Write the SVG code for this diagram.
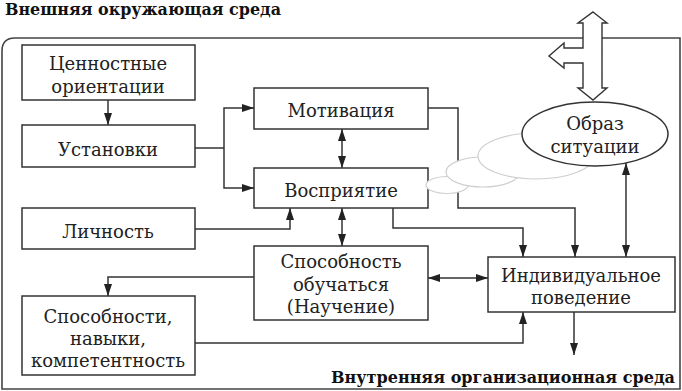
<svg xmlns="http://www.w3.org/2000/svg" width="682" height="391" viewBox="0 0 682 391">
<defs>
  <marker id="a" viewBox="0 0 12 8" refX="12" refY="4" markerWidth="12" markerHeight="8" markerUnits="userSpaceOnUse" orient="auto-start-reverse">
    <path d="M0,0 L12,4 L0,8 z" fill="#222"/>
  </marker>
</defs>
<rect width="682" height="391" fill="#fff"/>
<path d="M2,389 V51 Q2,38 15,38 H680 V389 Z" fill="none" stroke="#444" stroke-width="1.6"/>
<text x="5" y="15" font-family="DejaVu Serif, serif" font-size="16" font-weight="bold" fill="#111" textLength="276" lengthAdjust="spacingAndGlyphs">Внешняя окружающая среда</text>
<text x="331" y="383" font-family="DejaVu Serif, serif" font-size="16" font-weight="bold" fill="#111" textLength="344" lengthAdjust="spacingAndGlyphs">Внутренняя организационная среда</text>

<g id="connectors" fill="none" stroke="#333" stroke-width="1.5">
  <path d="M108,100 V125" marker-end="url(#a)"/>
  <path d="M195,148 H224"/>
  <path d="M224,148 V108 H254" marker-end="url(#a)"/>
  <path d="M224,148 V188 H254" marker-end="url(#a)"/>
  <path d="M195,229 H290 V208" marker-end="url(#a)"/>
  <path d="M342,129 V168" marker-start="url(#a)" marker-end="url(#a)"/>
  <path d="M342,208 V246" marker-start="url(#a)" marker-end="url(#a)"/>
  <path d="M428,108 H458 V208 H575 V257" marker-end="url(#a)"/>
  <path d="M393,208 V228 H523 V257" marker-end="url(#a)"/>
  <path d="M626,163 V257" marker-start="url(#a)" marker-end="url(#a)"/>
  <path d="M428,278 H488" marker-start="url(#a)" marker-end="url(#a)"/>
  <path d="M254,277 H108 V296" marker-end="url(#a)"/>
  <path d="M195,343 H523 V312" marker-end="url(#a)"/>
  <path d="M574,312 V355" marker-end="url(#a)"/>
</g>

<g font-family="DejaVu Serif, serif" font-size="18" text-anchor="middle">
<g id="cennostnye">
  <rect x="22" y="45" width="173" height="55" fill="#fff" stroke="#333" stroke-width="1.5"/>
  <text x="108" y="70" fill="#222">Ценностные</text>
  <text x="108" y="93" fill="#222">ориентации</text>
</g>
<g id="ustanovki">
  <rect x="22" y="125" width="173" height="42" fill="#fff" stroke="#333" stroke-width="1.5"/>
  <text x="108" y="156" fill="#222">Установки</text>
</g>
<g id="lichnost">
  <rect x="22" y="208" width="173" height="41" fill="#fff" stroke="#333" stroke-width="1.5"/>
  <text x="108" y="238" fill="#222">Личность</text>
</g>
<g id="sposobnosti">
  <rect x="22" y="296" width="173" height="79" fill="#fff" stroke="#333" stroke-width="1.5"/>
  <text x="108" y="323" fill="#222">Способности,</text>
  <text x="108" y="345" fill="#222">навыки,</text>
  <text x="108" y="367" fill="#222">компетентность</text>
</g>
<g id="motivaciya">
  <rect x="254" y="88" width="174" height="41" fill="#fff" stroke="#333" stroke-width="1.5"/>
  <text x="341" y="117" fill="#222">Мотивация</text>
</g>
<g id="vospriyatie">
  <rect x="254" y="168" width="174" height="40" fill="#fff" stroke="#333" stroke-width="1.5"/>
  <text x="341" y="197" fill="#222">Восприятие</text>
</g>
<g id="nauchenie">
  <rect x="254" y="246" width="174" height="74" fill="#fff" stroke="#333" stroke-width="1.5"/>
  <text x="341" y="268" fill="#222">Способность</text>
  <text x="341" y="291" fill="#222">обучаться</text>
  <text x="341" y="313" fill="#222">(Научение)</text>
</g>
<g id="povedenie">
  <rect x="488" y="257" width="187" height="55" fill="#fff" stroke="#333" stroke-width="1.5"/>
  <text x="581" y="282" fill="#222">Индивидуальное</text>
  <text x="581" y="304" fill="#222">поведение</text>
</g>

<g id="clouds" fill="#fff" stroke="#cfcfcf" stroke-width="1.2">
  <ellipse cx="447" cy="185" rx="21" ry="8.5"/>
  <ellipse cx="483" cy="172" rx="37" ry="15"/>
  <ellipse cx="536" cy="156" rx="58" ry="23"/>
</g>

<g id="obraz">
  <ellipse cx="595" cy="134" rx="73" ry="32" fill="#fff" stroke="#333" stroke-width="1.5"/>
  <text x="595" y="130" fill="#222">Образ</text>
  <text x="595" y="153" fill="#222">ситуации</text>
</g>
</g>

<g id="env-arrow">
  <path d="M593,12 L607,23 L602,23 L602,88 L607,88 L593,100 L578,88 L583,88 L583,63 L564,63 L564,68 L549,56 L564,43 L564,48 L583,48 L583,23 L578,23 Z" fill="#fff" stroke="#333" stroke-width="1.4" stroke-linejoin="miter"/>
</g>
</svg>
